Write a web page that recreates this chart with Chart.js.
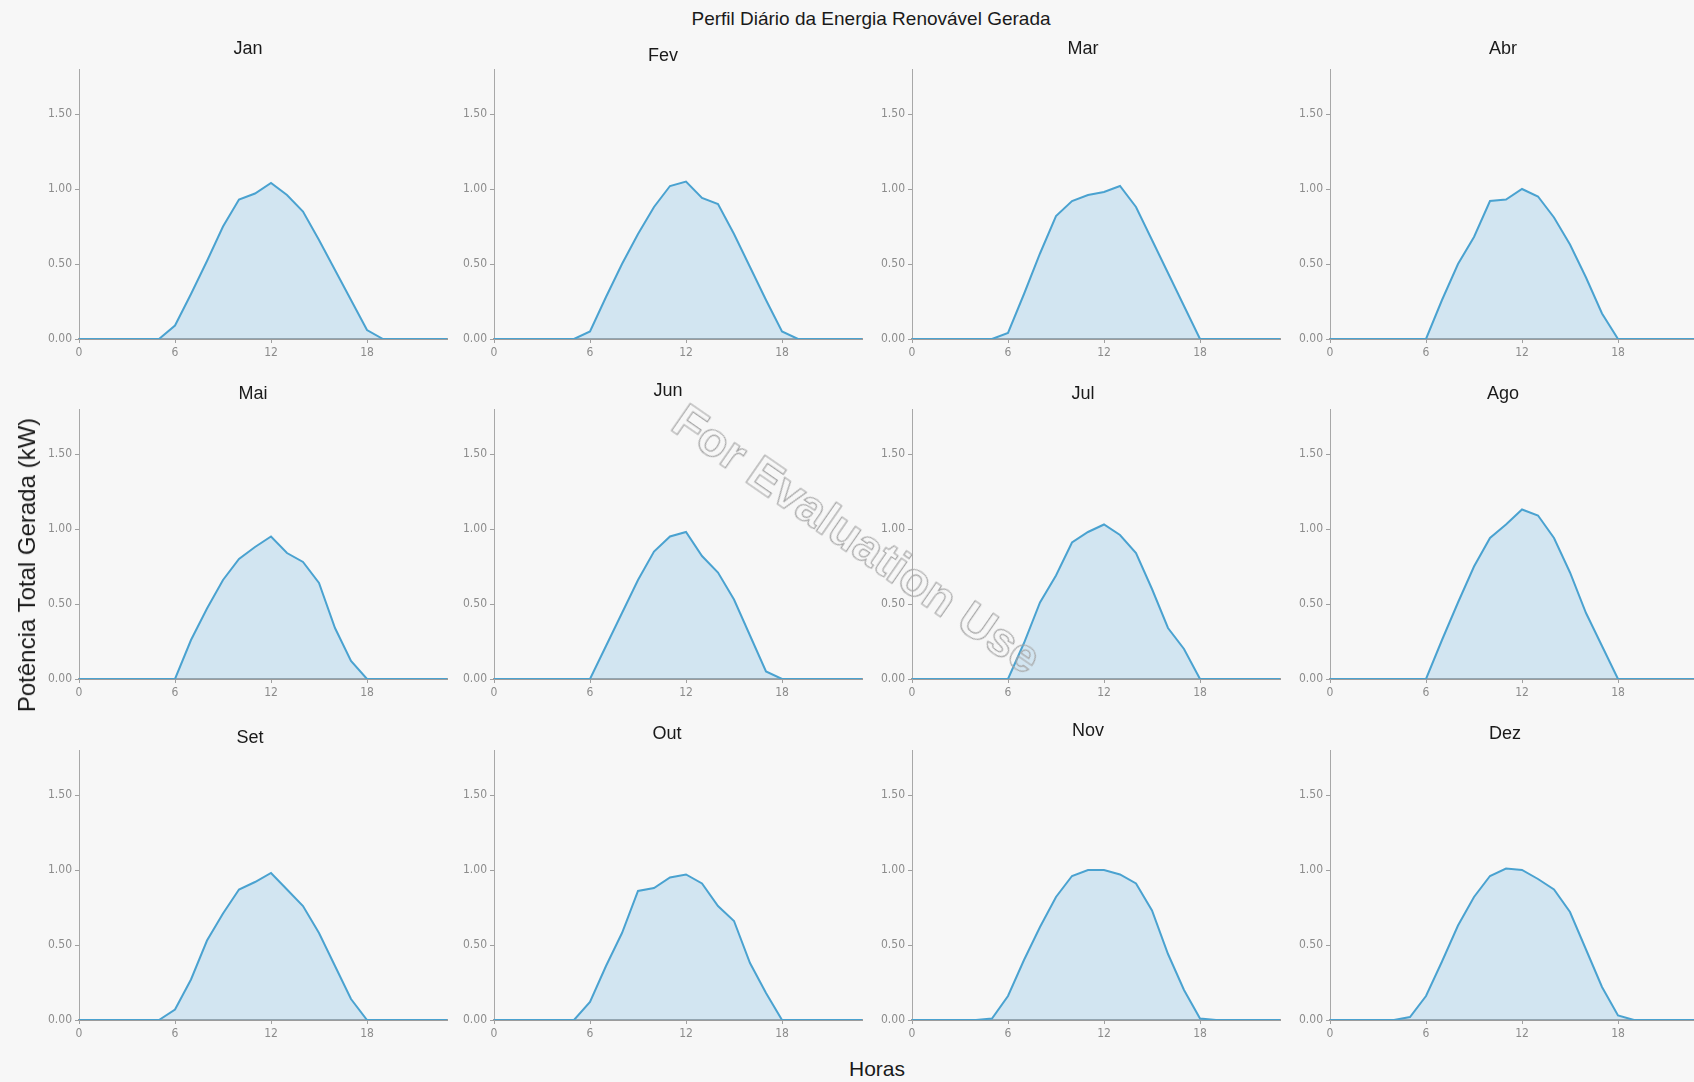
<!DOCTYPE html>
<html>
<head>
<meta charset="utf-8">
<script src="https://cdn.jsdelivr.net/npm/chart.js@4/dist/chart.umd.min.js"></script>
<style>
body { margin: 0; background: #fff; overflow: hidden; }
#page { position: absolute; left: 0; top: 0; width: 1694px; height: 1082px; background: #f7f7f7; overflow: hidden; }
canvas { position: absolute; }
.txt { position: absolute; font-family: "Liberation Sans", Arial, sans-serif; color: #1a1a1a; white-space: nowrap; }
.wm { position: absolute; font-family: "Liberation Sans", Arial, sans-serif; font-size: 48px; font-weight: bold; color: transparent; -webkit-text-stroke: 1.2px #a6a6a6; white-space: nowrap; transform: translate(-50%, -50%) rotate(34.7deg); }
</style>
</head>
<body>
<div id="page"></div>
<script>
var hours = [0, 1, 2, 3, 4, 5, 6, 7, 8, 9, 10, 11, 12, 13, 14, 15, 16, 17, 18, 19, 20, 21, 22, 23];
var months = ["Jan", "Fev", "Mar", "Abr", "Mai", "Jun", "Jul", "Ago", "Set", "Out", "Nov", "Dez"];

// potencia gerada (kW) por hora, 0h..23h
var jan = [0, 0, 0, 0, 0, 0, 0.09, 0.30, 0.52, 0.75, 0.93, 0.97, 1.04, 0.96, 0.85, 0.66, 0.46, 0.26, 0.06, 0, 0, 0, 0, 0];
var fev = [0, 0, 0, 0, 0, 0, 0.05, 0.28, 0.50, 0.70, 0.88, 1.02, 1.05, 0.94, 0.90, 0.70, 0.48, 0.26, 0.05, 0, 0, 0, 0, 0];
var mar = [0, 0, 0, 0, 0, 0, 0.04, 0.30, 0.57, 0.82, 0.92, 0.96, 0.98, 1.02, 0.88, 0.66, 0.44, 0.22, 0, 0, 0, 0, 0, 0];
var abr = [0, 0, 0, 0, 0, 0, 0, 0.26, 0.50, 0.68, 0.92, 0.93, 1.00, 0.95, 0.81, 0.63, 0.41, 0.17, 0, 0, 0, 0, 0, 0];
var mai = [0, 0, 0, 0, 0, 0, 0, 0.26, 0.47, 0.66, 0.80, 0.88, 0.95, 0.84, 0.78, 0.64, 0.34, 0.12, 0, 0, 0, 0, 0, 0];
var jun = [0, 0, 0, 0, 0, 0, 0, 0.22, 0.44, 0.66, 0.85, 0.95, 0.98, 0.82, 0.71, 0.53, 0.29, 0.05, 0, 0, 0, 0, 0, 0];
var jul = [0, 0, 0, 0, 0, 0, 0, 0.24, 0.51, 0.69, 0.91, 0.98, 1.03, 0.96, 0.84, 0.60, 0.34, 0.20, 0, 0, 0, 0, 0, 0];
var ago = [0, 0, 0, 0, 0, 0, 0, 0.26, 0.51, 0.75, 0.94, 1.03, 1.13, 1.09, 0.94, 0.71, 0.44, 0.22, 0, 0, 0, 0, 0, 0];
var set = [0, 0, 0, 0, 0, 0, 0.07, 0.27, 0.53, 0.71, 0.87, 0.92, 0.98, 0.87, 0.76, 0.58, 0.36, 0.14, 0, 0, 0, 0, 0, 0];
var out = [0, 0, 0, 0, 0, 0, 0.12, 0.36, 0.58, 0.86, 0.88, 0.95, 0.97, 0.91, 0.76, 0.66, 0.38, 0.18, 0, 0, 0, 0, 0, 0];
var nov = [0, 0, 0, 0, 0, 0.01, 0.16, 0.40, 0.62, 0.82, 0.96, 1.00, 1.00, 0.97, 0.91, 0.73, 0.44, 0.20, 0.01, 0, 0, 0, 0, 0];
var dez = [0, 0, 0, 0, 0, 0.02, 0.16, 0.39, 0.63, 0.82, 0.96, 1.01, 1.00, 0.94, 0.87, 0.72, 0.47, 0.22, 0.03, 0, 0, 0, 0, 0];
var series = [jan, fev, mar, abr, mai, jun, jul, ago, set, out, nov, dez];

var xTicks = [0, 6, 12, 18];
var yTicks = [0, 0.5, 1, 1.5];

// layout of the 4x3 grid (pixels)
var colX = [79, 494, 912, 1330];
var rowZero = [339, 679, 1020];
var titlePos = [[248, 48], [663, 55], [1083, 48], [1503, 48],
                [253, 393], [668, 390], [1083, 393], [1503, 393],
                [250, 737], [667, 733], [1088, 730], [1505, 733]];
var plotW = 368, plotH = 270, padL = 70, padT = 14, padR = 6, padB = 30;

var page = document.getElementById("page");
var tickFont = { family: '"DejaVu Sans Condensed", "Liberation Sans Narrow", sans-serif', size: 12 };

function addText(txt, x, y, size, rot) {
  var d = document.createElement("div");
  d.className = "txt";
  d.textContent = txt;
  d.style.left = x + "px";
  d.style.top = y + "px";
  d.style.fontSize = size + "px";
  d.style.transform = "translate(-50%, -50%)" + (rot ? " rotate(" + rot + "deg)" : "");
  page.appendChild(d);
}

months.forEach(function(m, i) {
  var col = i % 4, row = Math.floor(i / 4);
  var cv = document.createElement("canvas");
  cv.width = padL + plotW + padR;
  cv.height = padT + plotH + padB;
  cv.style.left = (colX[col] - padL) + "px";
  cv.style.top = (rowZero[row] - plotH - padT) + "px";
  page.appendChild(cv);

  new Chart(cv.getContext("2d"), {
    type: "line",
    data: {
      labels: hours,
      datasets: [{
        label: m,
        data: series[i],
        borderColor: "#4aa2d0",
        backgroundColor: "rgba(126, 190, 228, 0.30)",
        borderWidth: 2,
        fill: "origin",
        pointRadius: 0,
        tension: 0
      }]
    },
    options: {
      responsive: false,
      animation: false,
      devicePixelRatio: 1,
      layout: { padding: { top: padT, right: padR, left: 0, bottom: 0 } },
      plugins: { legend: { display: false }, tooltip: { enabled: false }, title: { display: false } },
      scales: {
        x: {
          type: "linear",
          min: 0,
          max: 23,
          z: 1,
          afterFit: function(s) { s.height = padB; },
          afterBuildTicks: function(s) { s.ticks = xTicks.map(function(v) { return { value: v }; }); },
          grid: { display: true, drawOnChartArea: false, drawTicks: true, tickLength: 4, color: "#a0a0a0" },
          border: { display: true, color: "#9c9c9c", width: 2 },
          ticks: { color: "#8c8c8c", font: tickFont, padding: 3, maxRotation: 0 }
        },
        y: {
          min: 0,
          max: 1.8,
          afterFit: function(s) { s.width = padL; },
          afterBuildTicks: function(s) { s.ticks = yTicks.map(function(v) { return { value: v }; }); },
          grid: { display: true, drawOnChartArea: false, drawTicks: true, tickLength: 4, color: "#a0a0a0" },
          border: { display: true, color: "#a8a8a8", width: 1 },
          ticks: { color: "#8c8c8c", font: tickFont, padding: 3, callback: function(v) { return v.toFixed(2); } }
        }
      }
    }
  });

  addText(m, titlePos[i][0], titlePos[i][1], 18);
});

addText("Perfil Diário da Energia Renovável Gerada", 871, 19, 19);
addText("Potência Total Gerada (kW)", 27, 565, 24, -90);
addText("Horas", 877, 1069, 21);

var wm = document.createElement("div");
wm.className = "wm";
wm.textContent = "For Evaluation Use";
wm.style.left = "857px";
wm.style.top = "539px";
page.appendChild(wm);
</script>
</body>
</html>
